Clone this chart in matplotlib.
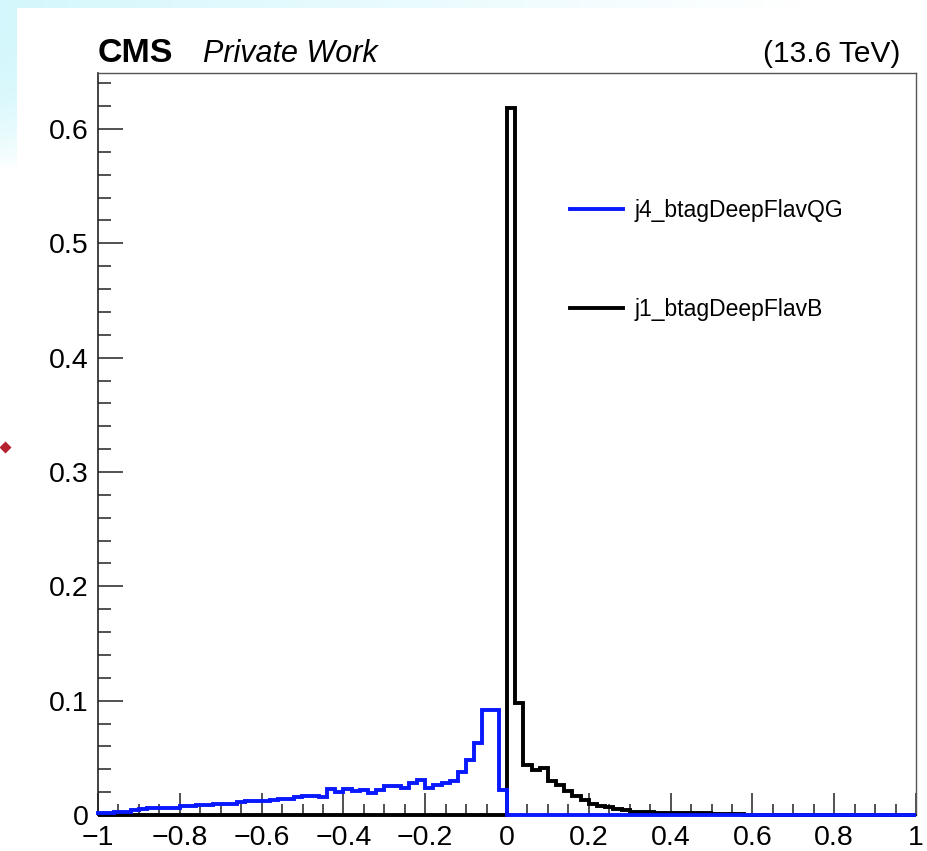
import numpy as np
import matplotlib
matplotlib.use("Agg")
import matplotlib.pyplot as plt
from matplotlib.lines import Line2D

plt.rcParams['font.family'] = ['Liberation Sans', 'DejaVu Sans']

# 100 bins over [-1, 1], normalised distributions
bin_edges = np.linspace(-1.0, 1.0, 101)

j4_btagDeepFlavQG = [
    0.002, 0.002, 0.003, 0.003, 0.004, 0.005, 0.006, 0.006, 0.006, 0.006,
    0.008, 0.008, 0.009, 0.009, 0.010, 0.010, 0.010, 0.011, 0.012, 0.012,
    0.012, 0.013, 0.014, 0.014, 0.016, 0.017, 0.017, 0.016, 0.023, 0.020,
    0.023, 0.021, 0.022, 0.019, 0.022, 0.025, 0.025, 0.024, 0.028, 0.031,
    0.024, 0.026, 0.028, 0.030, 0.038, 0.048, 0.063, 0.092, 0.092, 0.022,
] + [0.0] * 50

j1_btagDeepFlavB = [0.0] * 50 + [
    0.618, 0.098, 0.044, 0.039, 0.041, 0.030, 0.026, 0.021, 0.017, 0.013,
    0.010, 0.008, 0.007, 0.005, 0.004, 0.003, 0.003, 0.003, 0.002, 0.002,
    0.0015, 0.0015, 0.0015, 0.0015, 0.0015, 0.0008, 0.0008, 0.0005, 0.001, 0.0003,
    0.0, 0.0, 0.0, 0.0, 0.0, 0.0, 0.0, 0.0, 0.0, 0.0,
    0.0, 0.0, 0.0, 0.0, 0.0, 0.0, 0.0, 0.0, 0.0, 0.0,
]

series_labels = ["j4_btagDeepFlavQG", "j1_btagDeepFlavB"]
series_colors = ["#0818ff", "#000000"]

x_ticks = [-1, -0.8, -0.6, -0.4, -0.2, 0, 0.2, 0.4, 0.6, 0.8, 1]
x_ticklabels = ["\u22121", "\u22120.8", "\u22120.6", "\u22120.4", "\u22120.2", "0",
                "0.2", "0.4", "0.6", "0.8", "1"]
y_ticks = [0, 0.1, 0.2, 0.3, 0.4, 0.5, 0.6]
y_ticklabels = ["0", "0.1", "0.2", "0.3", "0.4", "0.5", "0.6"]

W, H = 927, 851
fig = plt.figure(figsize=(W / 100, H / 100), dpi=100)
fig.patch.set_facecolor("white")

# light cyan backdrop around the canvas
bg = fig.add_axes([0, 0, 1, 1], zorder=-10)
bg.set_axis_off()
yy, xx = np.mgrid[0:H, 0:W]
strength = np.clip(1 - xx / 800.0, 0, 1) * np.clip(1 - (yy / 170.0) ** 3, 0, 1)
cyan = np.array([0.83, 0.97, 0.99])
img = 1 - strength[..., None] * (1 - cyan)[None, None, :]
canvas = (xx >= 17) & (yy >= 8)
img[canvas] = 1.0
bg.imshow(img, extent=[0, W, H, 0], aspect="auto", interpolation="bilinear")
bg.set_xlim(0, W)
bg.set_ylim(H, 0)
bg.plot([5], [447], marker="D", ms=6, color="#b5202e", mec="none")

ax = fig.add_axes([98 / W, (H - 815) / H, (916 - 98) / W, (815 - 73) / H])
ax.set_xlim(-1, 1)
ax.set_ylim(0, 0.649)

ax.stairs(j1_btagDeepFlavB, bin_edges, baseline=0, color=series_colors[1],
          lw=2.8, clip_on=False, zorder=3)
ax.stairs(j4_btagDeepFlavQG, bin_edges, baseline=0, color=series_colors[0],
          lw=2.8, clip_on=False, zorder=4)

ax.set_xticks(x_ticks)
ax.set_xticklabels(x_ticklabels)
ax.set_yticks(y_ticks)
ax.set_yticklabels(y_ticklabels)
ax.set_xticks(np.arange(-1, 1.0001, 0.05), minor=True)
ax.set_yticks(np.arange(0, 0.649, 0.02), minor=True)

ax.tick_params(axis="x", which="major", direction="in", length=16, width=1.1,
               labelsize=20.5, pad=7.5, top=False, color="#222222")
ax.tick_params(axis="x", which="minor", direction="in", length=8, width=1.1,
               top=False, color="#222222")
ax.tick_params(axis="y", which="major", direction="in", length=18, width=1.1,
               labelsize=20.5, pad=6.5, right=False, color="#222222")
ax.tick_params(axis="y", which="minor", direction="in", length=9, width=1.1,
               right=False, color="#222222")

for side in ("top", "right"):
    ax.spines[side].set_color("#555555")
    ax.spines[side].set_linewidth(1.0)
ax.spines["left"].set_color("#222222")
ax.spines["left"].set_linewidth(1.2)
ax.spines["bottom"].set_color("#000000")
ax.spines["bottom"].set_linewidth(1.2)

handles = [Line2D([], [], color=c, lw=2.8) for c in series_colors]
ax.legend(handles, series_labels, loc="upper left",
          bbox_to_anchor=(570 / W, 1 - 199 / H), bbox_transform=fig.transFigure,
          frameon=False, fontsize=16.5, borderpad=0, borderaxespad=0,
          handlelength=2.3, handletextpad=0.5, labelspacing=3.3)

fig.text(98 / W, 1 - 62 / H, "CMS", fontsize=24.5, fontweight="bold",
         ha="left", va="baseline")
fig.text(203 / W, 1 - 62 / H, "Private Work", fontsize=22, style="italic",
         ha="left", va="baseline")
fig.text(900 / W, 1 - 62 / H, "(13.6 TeV)", fontsize=21.5,
         ha="right", va="baseline")

fig.savefig("out.png", dpi=100)
